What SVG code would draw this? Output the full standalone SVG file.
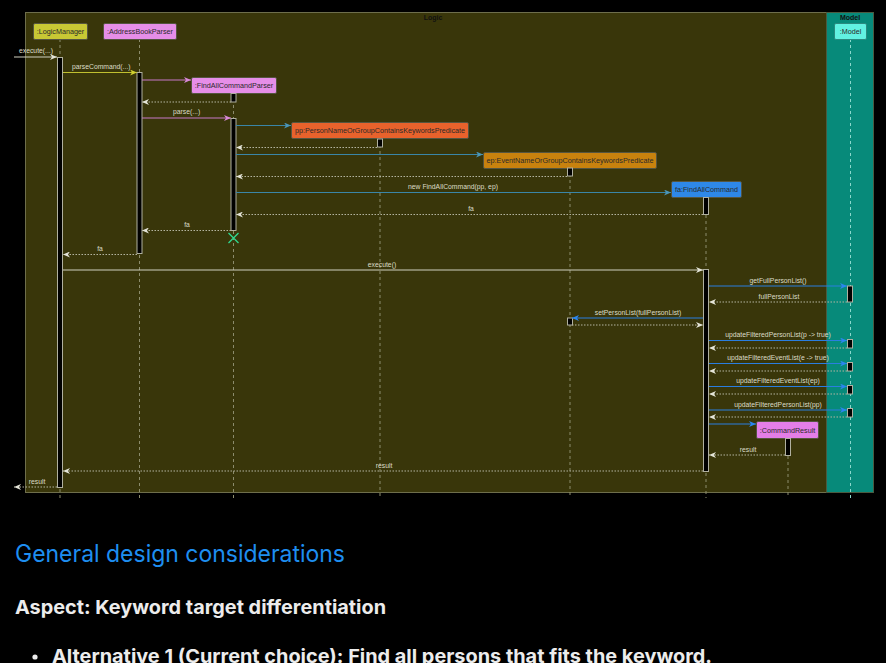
<svg xmlns="http://www.w3.org/2000/svg" width="886" height="663" viewBox="0 0 886 663">
<style>
.lbl{font-family:"Liberation Sans",Arial,sans-serif;font-size:6.8px;fill:#dcdcc8}
.ptxt{font-family:"Liberation Sans",Arial,sans-serif;font-size:7.2px;fill:#2a2a2a}
.ttl{font-family:"Liberation Sans",Arial,sans-serif;font-size:7px;font-weight:bold;fill:#111}
.life{stroke:#8c8c6c;stroke-width:1;stroke-dasharray:3 3;fill:none}
.act{fill:#000;stroke:#b0b0a0;stroke-width:1}
.ret{stroke:#b4b4a0;stroke-width:1;stroke-dasharray:1.5 1.5;fill:none;marker-end:url(#mRet)}
.c-gray{stroke:#d0d0c0;stroke-width:1;fill:none;marker-end:url(#mGray)}
.c-yel{stroke:#c0c030;stroke-width:1;fill:none;marker-end:url(#mYel)}
.c-pink{stroke:#c878c8;stroke-width:1;fill:none;marker-end:url(#mPink)}
.c-steel{stroke:#3a86a8;stroke-width:1;fill:none;marker-end:url(#mSteel)}
.c-blue{stroke:#2a7ee0;stroke-width:1;fill:none;marker-end:url(#mBlue)}
.pbox{stroke:#555540;stroke-width:1}
</style>
<defs>
<marker id="mRet" markerUnits="userSpaceOnUse" markerWidth="8" markerHeight="6" refX="7" refY="3" orient="auto"><path d="M0,0 L7,3 L0,6 L2,3 Z" fill="#e4e4d8"/></marker>
<marker id="mGray" markerUnits="userSpaceOnUse" markerWidth="8" markerHeight="6" refX="7" refY="3" orient="auto"><path d="M0,0 L7,3 L0,6 L2,3 Z" fill="#e4e4d8"/></marker>
<marker id="mYel" markerUnits="userSpaceOnUse" markerWidth="8" markerHeight="6" refX="7" refY="3" orient="auto"><path d="M0,0 L7,3 L0,6 L2,3 Z" fill="#d0d030"/></marker>
<marker id="mPink" markerUnits="userSpaceOnUse" markerWidth="8" markerHeight="6" refX="7" refY="3" orient="auto"><path d="M0,0 L7,3 L0,6 L2,3 Z" fill="#d888d8"/></marker>
<marker id="mSteel" markerUnits="userSpaceOnUse" markerWidth="8" markerHeight="6" refX="7" refY="3" orient="auto"><path d="M0,0 L7,3 L0,6 L2,3 Z" fill="#4a96b8"/></marker>
<marker id="mBlue" markerUnits="userSpaceOnUse" markerWidth="8" markerHeight="6" refX="7" refY="3" orient="auto"><path d="M0,0 L7,3 L0,6 L2,3 Z" fill="#2a86f0"/></marker>
</defs>
<rect x="0" y="0" width="886" height="663" fill="#000"/>
<g id="frame-logic">
<rect x="25.5" y="12.5" width="801" height="480" fill="#39360a" stroke="#6e6e4c" stroke-width="1"/>
<text class="ttl" x="433" y="19.5" text-anchor="middle">Logic</text>
</g>
<g id="frame-model">
<rect x="826.5" y="12.5" width="47" height="480" fill="#078a7a" stroke="#4a5a40" stroke-width="1"/>
<text class="ttl" x="850" y="19.5" text-anchor="middle">Model</text>
</g>
<g id="LogicManager">
<line class="life" x1="60" y1="39" x2="60" y2="498"/>
<rect class="pbox" x="33.5" y="23.5" width="54" height="16" rx="1.5" fill="#c8c834"/>
<text class="ptxt" x="60.5" y="34" text-anchor="middle">:LogicManager</text>
<rect class="act" x="57.5" y="57.5" width="5" height="430"/>
</g>
<g id="AddressBookParser">
<line class="life" x1="139.5" y1="39" x2="139.5" y2="498"/>
<rect class="pbox" x="103.5" y="23.5" width="73" height="16" rx="1.5" fill="#e68ee8"/>
<text class="ptxt" x="140" y="34" text-anchor="middle">:AddressBookParser</text>
<rect class="act" x="137" y="72.5" width="5" height="181"/>
</g>
<g id="FindAllCommandParser">
<line class="life" x1="233.5" y1="93" x2="233.5" y2="498"/>
<rect class="pbox" x="191.5" y="77.5" width="85" height="16" rx="1.5" fill="#e68ee8"/>
<text class="ptxt" x="234" y="88" text-anchor="middle">:FindAllCommandParser</text>
<rect class="act" x="231" y="93.5" width="5" height="8.5"/>
<rect class="act" x="231" y="118.5" width="5" height="112"/>
<path d="M228.5,233 L238.5,243 M238.5,233 L228.5,243" stroke="#30d890" stroke-width="1.3"/>
</g>
<g id="PersonPredicate">
<line class="life" x1="380" y1="139" x2="380" y2="498"/>
<rect class="pbox" x="291.5" y="122.5" width="177" height="16" rx="1.5" fill="#e8622c"/>
<text class="ptxt" x="380" y="133" text-anchor="middle" textLength="170" lengthAdjust="spacingAndGlyphs">pp:PersonNameOrGroupContainsKeywordsPredicate</text>
<rect class="act" x="377.5" y="139" width="5" height="8"/>
</g>
<g id="EventPredicate">
<line class="life" x1="570" y1="168" x2="570" y2="498"/>
<rect class="pbox" x="483.5" y="152.5" width="173" height="16" rx="1.5" fill="#c8820e"/>
<text class="ptxt" x="570" y="163" text-anchor="middle" textLength="167" lengthAdjust="spacingAndGlyphs">ep:EventNameOrGroupContainsKeywordsPredicate</text>
<rect class="act" x="567.5" y="168" width="5" height="8"/>
<rect class="act" x="567.5" y="318" width="5" height="7"/>
</g>
<g id="FindAllCommand">
<line class="life" x1="706" y1="197" x2="706" y2="498"/>
<rect class="pbox" x="671.5" y="181.5" width="70" height="16" rx="1.5" fill="#2e88e8"/>
<text class="ptxt" x="706.5" y="192" text-anchor="middle">fa:FindAllCommand</text>
<rect class="act" x="703.5" y="197.5" width="5" height="17"/>
<rect class="act" x="703.5" y="269.5" width="5" height="202"/>
</g>
<g id="CommandResult">
<line class="life" x1="788" y1="438" x2="788" y2="498"/>
<rect class="pbox" x="756.5" y="421.5" width="62" height="17" rx="1.5" fill="#e47ee8"/>
<text class="ptxt" x="787.5" y="432.5" text-anchor="middle">:CommandResult</text>
<rect class="act" x="785.5" y="438.5" width="5" height="17"/>
</g>
<g id="Model">
<line x1="850.5" y1="39" x2="850.5" y2="498" stroke="#8ad8cc" stroke-width="1" stroke-dasharray="3 3"/>
<rect x="834.5" y="23.5" width="32" height="16" rx="1.5" fill="#62f2e2" stroke="#2a8a80" stroke-width="1"/>
<text class="ptxt" x="850.5" y="34" text-anchor="middle">:Model</text>
<rect class="act" x="847.5" y="286" width="5" height="16"/>
<rect class="act" x="847.5" y="339.5" width="5" height="8.5"/>
<rect class="act" x="847.5" y="362.5" width="5" height="8.5"/>
<rect class="act" x="847.5" y="385.5" width="5" height="8.5"/>
<rect class="act" x="847.5" y="408.5" width="5" height="8.5"/>
</g>
<g id="connectors">
<line class="c-gray" x1="14" y1="57" x2="57" y2="57"/>
<text class="lbl" x="19" y="53">execute(...)</text>
<line class="c-yel" x1="63" y1="72.5" x2="137" y2="72.5"/>
<text class="lbl" x="72" y="69">parseCommand(...)</text>
<line class="c-pink" x1="142" y1="80" x2="191" y2="80"/>
<line class="ret" x1="231" y1="102" x2="142" y2="102"/>
<line class="c-pink" x1="142" y1="118" x2="231" y2="118"/>
<text class="lbl" x="173" y="114">parse(...)</text>
<line class="c-steel" x1="236" y1="125.5" x2="291" y2="125.5"/>
<line class="ret" x1="377" y1="147.5" x2="236" y2="147.5"/>
<line class="c-steel" x1="236" y1="154.5" x2="483" y2="154.5"/>
<line class="ret" x1="567" y1="176.5" x2="236" y2="176.5"/>
<line class="c-steel" x1="236" y1="192.5" x2="671" y2="192.5"/>
<text class="lbl" x="453" y="189" text-anchor="middle">new FindAllCommand(pp, ep)</text>
<line class="ret" x1="703" y1="214.5" x2="236" y2="214.5"/>
<text class="lbl" x="471" y="211" text-anchor="middle">fa</text>
<line class="ret" x1="231" y1="230.5" x2="142" y2="230.5"/>
<text class="lbl" x="187" y="227" text-anchor="middle">fa</text>
<line class="ret" x1="137" y1="254.5" x2="63" y2="254.5"/>
<text class="lbl" x="100" y="251" text-anchor="middle">fa</text>
<line class="c-gray" x1="63" y1="270" x2="703" y2="270"/>
<text class="lbl" x="382" y="266.5" text-anchor="middle">execute()</text>
<line class="c-blue" x1="709" y1="286" x2="847" y2="286"/>
<text class="lbl" x="778" y="282.5" text-anchor="middle">getFullPersonList()</text>
<line class="ret" x1="847" y1="302" x2="709" y2="302"/>
<text class="lbl" x="779" y="299" text-anchor="middle">fullPersonList</text>
<line class="c-blue" x1="703" y1="318" x2="572" y2="318"/>
<text class="lbl" x="638" y="314.5" text-anchor="middle">setPersonList(fullPersonList)</text>
<line class="ret" x1="572" y1="325" x2="703" y2="325"/>
<line class="c-blue" x1="709" y1="340.5" x2="847" y2="340.5"/>
<text class="lbl" x="778" y="337" text-anchor="middle">updateFilteredPersonList(p -&gt; true)</text>
<line class="ret" x1="847" y1="348" x2="709" y2="348"/>
<line class="c-blue" x1="709" y1="363.5" x2="847" y2="363.5"/>
<text class="lbl" x="778" y="360" text-anchor="middle">updateFilteredEventList(e -&gt; true)</text>
<line class="ret" x1="847" y1="371" x2="709" y2="371"/>
<line class="c-blue" x1="709" y1="386.5" x2="847" y2="386.5"/>
<text class="lbl" x="778" y="383" text-anchor="middle">updateFilteredEventList(ep)</text>
<line class="ret" x1="847" y1="394" x2="709" y2="394"/>
<line class="c-blue" x1="709" y1="410" x2="847" y2="410"/>
<text class="lbl" x="778" y="406.5" text-anchor="middle">updateFilteredPersonList(pp)</text>
<line class="ret" x1="847" y1="417" x2="709" y2="417"/>
<line class="c-blue" x1="709" y1="424" x2="756" y2="424"/>
<line class="ret" x1="785" y1="455" x2="709" y2="455"/>
<text class="lbl" x="748" y="452" text-anchor="middle">result</text>
<line class="ret" x1="703" y1="471" x2="63" y2="471"/>
<text class="lbl" x="384" y="468" text-anchor="middle">result</text>
<line class="ret" x1="57" y1="487" x2="14" y2="487"/>
<text class="lbl" x="37" y="484" text-anchor="middle">result</text>
</g>
<g id="page-text" font-family="Inter,'Liberation Sans',Arial,sans-serif">
<text x="15" y="562" font-size="24" fill="#1e8ef0" textLength="330" lengthAdjust="spacingAndGlyphs">General design considerations</text>
<text x="15" y="614" font-size="19" font-weight="bold" fill="#ececec" textLength="371" lengthAdjust="spacingAndGlyphs">Aspect: Keyword target differentiation</text>
<circle cx="35" cy="657" r="2.6" fill="#ececec"/>
<text x="52" y="663" font-size="19" font-weight="bold" fill="#ececec" textLength="660" lengthAdjust="spacingAndGlyphs">Alternative 1 (Current choice): Find all persons that fits the keyword.</text>
</g>
</svg>
